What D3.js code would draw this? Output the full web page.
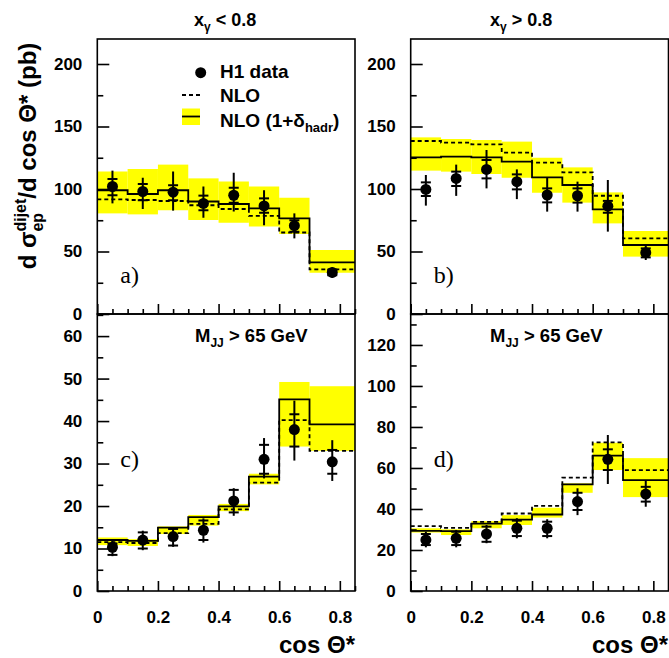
<!DOCTYPE html>
<html>
<head>
<meta charset="utf-8">
<script src="https://cdn.jsdelivr.net/npm/d3@7"></script>
<style>
  body { margin: 0; background: #fff; }
  svg text { font-family: "Liberation Sans", Arial, sans-serif; font-weight: bold; }
  .tick text { font-size: 17px; font-weight: bold; font-family: "Liberation Sans", Arial, sans-serif; }
</style>
</head>
<body>
<svg id="chart" width="669" height="658"></svg>
<script>
// bins in cos theta*
var binEdges = [0, 0.1, 0.2, 0.3, 0.4, 0.5, 0.6, 0.7, 0.85];
var xPoints = [0.05, 0.15, 0.25, 0.35, 0.45, 0.55, 0.65, 0.775];

// a) x_gamma < 0.8
var dataA = [102, 98, 97.5, 88.5, 95, 86.5, 70.7, 33.3];
var totUpA = [114.7, 109, 114, 102, 113, 99, 80.5, 37.3];
var totLoA = [88.5, 84, 82.7, 77, 82, 71, 60.5, 29];
var statUpA = [108, 104, 103, 94.7, 101, 92.5, 75, 35.5];
var statLoA = [95, 91, 91, 83, 89, 81, 65.8, 31];
var nloHadA = [99, 96, 99, 90, 88, 84.5, 76.5, 41.3];
var nloA = [91.7, 91.2, 90.4, 87, 84, 78.5, 65.2, 35.7];
var bandUpA = [114, 116, 119.5, 108.5, 106, 102, 93, 51.2];
var bandLoA = [80.5, 79.7, 83, 75.2, 73, 70, 64, 33];

// b) x_gamma > 0.8
var dataB = [99.7, 108.5, 115.7, 105.9, 95.2, 94.6, 86.3, 49.1];
var totUpB = [111.2, 119.5, 131.2, 115.7, 109.3, 105.9, 107.2, 55.7];
var totLoB = [86.7, 94.5, 100.5, 91.9, 81.9, 81.9, 65.9, 43.2];
var statUpB = [105.3, 113.9, 123.2, 111.7, 100.5, 100.5, 90.5, 52.5];
var statLoB = [94.4, 102.4, 108.5, 99.7, 89.3, 89.1, 81, 45.3];
var nloHadB = [125.3, 125.9, 125.3, 121.9, 109.3, 103.2, 83.7, 55.2];
var nloB = [138.4, 137.1, 135.7, 129.1, 121.1, 113.3, 94.6, 60.5];
var bandUpB = [141.3, 140, 139.2, 137.9, 125, 117.3, 97.3, 66.4];
var bandLoB = [114.7, 113.9, 112, 109, 97, 89.1, 72.5, 45.9];

// c) x_gamma < 0.8, M_JJ > 65 GeV
var dataC = [10.3, 12.0, 12.8, 14.3, 21.2, 31.0, 38.0, 30.4];
var totUpC = [12.0, 14.2, 14.9, 17.1, 24.2, 36.0, 44.8, 35.5];
var totLoC = [8.2, 9.6, 10.4, 11.4, 17.7, 26.5, 30.7, 25.9];
var statUpC = [11.2, 13.8, 14.6, 16.6, 23.8, 34.4, 41.6, 33.2];
var statLoC = [8.5, 10.0, 10.7, 12.0, 18.5, 27.6, 34.0, 27.6];
var nloHadC = [12.0, 11.8, 14.9, 17.4, 19.9, 26.9, 45.1, 39.2];
var nloC = [11.5, 11.3, 13.6, 15.8, 19.2, 25.5, 40.2, 33.0];
var bandUpC = [12.6, 12.2, 15.2, 17.9, 20.5, 27.6, 49.2, 48.2];
var bandLoC = [10.8, 10.6, 13.4, 15.4, 18.8, 25.1, 34.0, 33.0];

// d) x_gamma > 0.8, M_JJ > 65 GeV
var dataD = [24.9, 25.7, 27.8, 30.6, 30.6, 43.6, 64.2, 47.3];
var totUpD = [28.9, 29.8, 32.2, 35.5, 35.0, 50.1, 76.1, 54.1];
var totLoD = [21.3, 21.3, 23.3, 25.7, 25.7, 37.0, 52.2, 41.1];
var statUpD = [27.8, 28.9, 31.4, 34.3, 33.8, 47.9, 69.1, 50.8];
var statLoD = [22.4, 22.4, 24.0, 26.8, 26.8, 39.5, 59.0, 43.6];
var nloHadD = [29.3, 29.2, 32.9, 34.8, 37.3, 52.0, 66.0, 54.1];
var nloD = [31.6, 30.8, 33.7, 37.8, 41.5, 55.3, 72.5, 59.0];
var bandUpD = [30.6, 30.1, 34.1, 37.0, 40.6, 52.5, 72.3, 64.8];
var bandLoD = [28.5, 27.3, 30.6, 32.2, 35.8, 47.9, 59.0, 45.8];

var xTickLabels = [0, 0.2, 0.4, 0.6, 0.8];

var svg = d3.select("#chart");

var panels = [
  { x0: 97.3, x1: 355, y0: 314, y1: 39, ymax: 220, major: [0, 50, 100, 150, 200], minorStep: 25,
    data: dataA, totUp: totUpA, totLo: totLoA, statUp: statUpA, statLo: statLoA,
    nloHad: nloHadA, nlo: nloA, bandUp: bandUpA, bandLo: bandLoA, letter: "a)", xLabels: false },
  { x0: 410.7, x1: 668.5, y0: 314, y1: 39, ymax: 220, major: [0, 50, 100, 150, 200], minorStep: 25,
    data: dataB, totUp: totUpB, totLo: totLoB, statUp: statUpB, statLo: statLoB,
    nloHad: nloHadB, nlo: nloB, bandUp: bandUpB, bandLo: bandLoB, letter: "b)", xLabels: false },
  { x0: 97.3, x1: 355, y0: 591, y1: 314, ymax: 65.2, major: [0, 10, 20, 30, 40, 50, 60], minorStep: 5,
    data: dataC, totUp: totUpC, totLo: totLoC, statUp: statUpC, statLo: statLoC,
    nloHad: nloHadC, nlo: nloC, bandUp: bandUpC, bandLo: bandLoC, letter: "c)", xLabels: true },
  { x0: 410.7, x1: 668.5, y0: 591, y1: 314, ymax: 135.1, major: [0, 20, 40, 60, 80, 100, 120], minorStep: 10,
    data: dataD, totUp: totUpD, totLo: totLoD, statUp: statUpD, statLo: statLoD,
    nloHad: nloHadD, nlo: nloD, bandUp: bandUpD, bandLo: bandLoD, letter: "d)", xLabels: true }
];

function stepPath(vals, x, y) {
  var p = "M" + x(binEdges[0]) + "," + y(vals[0]);
  vals.forEach(function(v, i) {
    p += "V" + y(v) + "H" + x(binEdges[i + 1]);
  });
  return p;
}

panels.forEach(function(P) {
  var x = d3.scaleLinear().domain([0, 0.85]).range([P.x0, P.x1]);
  var y = d3.scaleLinear().domain([0, P.ymax]).range([P.y0, P.y1]);
  var g = svg.append("g");

  // yellow band
  g.selectAll("rect.band")
    .data(P.bandUp)
    .enter()
    .append("rect")
    .attr("x", (d, i) => x(binEdges[i]))
    .attr("width", (d, i) => x(binEdges[i + 1]) - x(binEdges[i]))
    .attr("y", d => y(d))
    .attr("height", (d, i) => y(P.bandLo[i]) - y(d))
    .attr("fill", "#ffff00");

  // NLO dashed
  g.append("path")
    .attr("d", stepPath(P.nlo, x, y))
    .attr("fill", "none")
    .attr("stroke", "#000")
    .attr("stroke-width", 1.8)
    .attr("stroke-dasharray", "4,3");

  // NLO (1+delta_hadr) solid
  g.append("path")
    .attr("d", stepPath(P.nloHad, x, y))
    .attr("fill", "none")
    .attr("stroke", "#000")
    .attr("stroke-width", 1.8);

  // error bars
  g.selectAll("line.err")
    .data(P.data)
    .enter()
    .append("line")
    .attr("x1", (d, i) => x(xPoints[i]))
    .attr("x2", (d, i) => x(xPoints[i]))
    .attr("y1", (d, i) => y(P.totUp[i]))
    .attr("y2", (d, i) => y(P.totLo[i]))
    .attr("stroke", "#000")
    .attr("stroke-width", 2);

  [P.statUp, P.statLo].forEach(function(arr) {
    g.selectAll(null)
      .data(arr)
      .enter()
      .append("line")
      .attr("x1", (d, i) => x(xPoints[i]) - 5)
      .attr("x2", (d, i) => x(xPoints[i]) + 5)
      .attr("y1", d => y(d))
      .attr("y2", d => y(d))
      .attr("stroke", "#000")
      .attr("stroke-width", 2);
  });

  g.selectAll("circle")
    .data(P.data)
    .enter()
    .append("circle")
    .attr("cx", (d, i) => x(xPoints[i]))
    .attr("cy", d => y(d))
    .attr("r", 5.5)
    .attr("fill", "#000");

  // frame
  g.append("rect")
    .attr("x", P.x0)
    .attr("y", P.y1)
    .attr("width", P.x1 - P.x0)
    .attr("height", P.y0 - P.y1)
    .attr("fill", "none")
    .attr("stroke", "#000")
    .attr("stroke-width", 1.6);

  // y axis: ticks inward
  var minorY = d3.range(0, P.ymax, P.minorStep).filter(v => P.major.indexOf(v) < 0);
  g.append("g")
    .attr("transform", `translate(${P.x0},0)`)
    .call(d3.axisLeft(y).tickValues(minorY).tickSize(-6).tickFormat(""));
  g.append("g")
    .attr("transform", `translate(${P.x0},0)`)
    .call(d3.axisLeft(y).tickValues(P.major).tickSize(-12).tickSizeOuter(0).tickPadding(15).tickFormat(d3.format("d")));

  // x axis
  var minorX = d3.range(0, 0.851, 0.05).filter(v => Math.abs(v * 5 - Math.round(v * 5)) > 1e-6);
  g.append("g")
    .attr("transform", `translate(0,${P.y0})`)
    .call(d3.axisBottom(x).tickValues(minorX).tickSize(-5).tickFormat(""));
  g.append("g")
    .attr("transform", `translate(0,${P.y0})`)
    .call(d3.axisBottom(x).tickValues(xTickLabels).tickSize(-10).tickSizeOuter(0).tickPadding(20)
      .tickFormat(P.xLabels ? d3.format("") : ""));

  g.selectAll(".domain").remove();
  g.selectAll(".tick line").attr("stroke", "#000").attr("stroke-width", 1.6);
  g.selectAll(".tick text").attr("fill", "#000");

  // panel letter
  g.append("text")
    .attr("x", P.x0 + 23)
    .attr("y", P.letter === "a)" || P.letter === "b)" ? 283 : 467)
    .style("font-family", "'Liberation Serif', 'Times New Roman', serif")
    .style("font-weight", "normal")
    .style("font-size", "24px")
    .text(P.letter);
});

// titles
function titleXg(xpos, sign) {
  var t = svg.append("text").attr("x", xpos).attr("y", 26).style("font-size", "18px");
  t.append("tspan").text("x");
  t.append("tspan").attr("dy", 5).style("font-size", "12px").text("\u03b3");
  t.append("tspan").attr("dy", -5).text(" " + sign + " 0.8");
}
titleXg(194, "<");
titleXg(490, ">");

function titleM(xpos) {
  var t = svg.append("text").attr("x", xpos).attr("y", 342).style("font-size", "18.5px");
  t.append("tspan").text("M");
  t.append("tspan").attr("dy", 5).style("font-size", "12px").text("JJ");
  t.append("tspan").attr("dy", -5).text(" > 65 GeV");
}
titleM(195);
titleM(490);

// legend
var lg = svg.append("g");
lg.append("circle").attr("cx", 200.7).attr("cy", 72.7).attr("r", 5.5).attr("fill", "#000");
lg.append("text").attr("x", 220).attr("y", 78).style("font-size", "19px").text("H1 data");
lg.append("line").attr("x1", 182).attr("x2", 200).attr("y1", 95).attr("y2", 95)
  .attr("stroke", "#000").attr("stroke-width", 2).attr("stroke-dasharray", "4,3");
lg.append("text").attr("x", 220).attr("y", 101.5).style("font-size", "19px").text("NLO");
lg.append("rect").attr("x", 182).attr("y", 108.5).attr("width", 18).attr("height", 16.5).attr("fill", "#ffff00");
lg.append("line").attr("x1", 182).attr("x2", 200).attr("y1", 116.5).attr("y2", 116.5)
  .attr("stroke", "#000").attr("stroke-width", 1.8);
var lt = lg.append("text").attr("x", 220).attr("y", 126.5).style("font-size", "19px");
lt.append("tspan").text("NLO (1+\u03b4");
lt.append("tspan").attr("dy", 5).style("font-size", "13px").text("hadr");
lt.append("tspan").attr("dy", -5).text(")");

// x axis titles
[355, 668].forEach(function(xr) {
  svg.append("text")
    .attr("x", xr)
    .attr("y", 653)
    .attr("text-anchor", "end")
    .style("font-size", "24px")
    .text("cos \u0398*");
});

// y axis title
var yl = svg.append("text")
  .attr("transform", "translate(36,156) rotate(-90)")
  .attr("text-anchor", "middle")
  .style("font-size", "24px");
yl.append("tspan").text("d \u03c3");
var sup = yl.append("tspan").attr("dy", -10).style("font-size", "16px").text("dijet");
var supLen = sup.node().getComputedTextLength();
var sub = yl.append("tspan").attr("dx", -supLen).attr("dy", 17).style("font-size", "16px").text("ep");
var subLen = sub.node().getComputedTextLength();
yl.append("tspan").attr("dx", supLen - subLen).attr("dy", -7).text("/d cos \u0398* (pb)");
</script>
</body>
</html>
